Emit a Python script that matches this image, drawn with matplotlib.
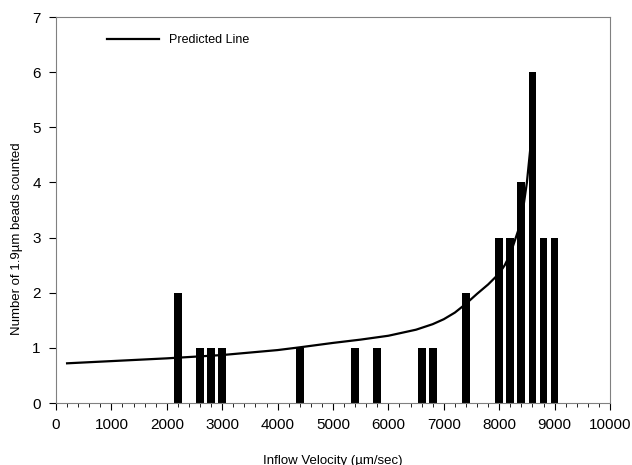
import numpy as np
import matplotlib.pyplot as plt
from matplotlib.ticker import MultipleLocator

plt.rcParams['font.family'] = ['Liberation Sans', 'DejaVu Sans']

# bead counts per inflow velocity bin
velocity = [2200, 2600, 2800, 3000, 4400, 5400, 5800, 6600, 6800, 7400,
            8000, 8200, 8400, 8600, 8800, 9000]
counts = [2, 1, 1, 1, 1, 1, 1, 1, 1, 2, 3, 3, 4, 6, 3, 3]

# predicted line
pred_x = [200, 1000, 2000, 3000, 4000, 4400, 5000, 5500, 6000, 6500, 6800,
          7000, 7200, 7400, 7600, 7800, 8000, 8100, 8200, 8300, 8400, 8500, 8600]
pred_y = [0.72, 0.76, 0.81, 0.87, 0.96, 1.01, 1.09, 1.15, 1.22, 1.33, 1.43,
          1.52, 1.64, 1.80, 1.98, 2.15, 2.35, 2.50, 2.70, 3.00, 3.30, 4.00, 5.00]

fig = plt.figure(figsize=(6.32, 4.65), dpi=100)
ax = fig.add_axes([0.0886, 0.1333, 0.8766, 0.8301])

ax.bar(velocity, counts, width=140, color='black', zorder=2)
ax.plot(pred_x, pred_y, color='black', lw=1.6, label='Predicted Line', zorder=3)

ax.set_xlim(0, 10000)
ax.set_ylim(0, 7)
ax.xaxis.set_major_locator(MultipleLocator(1000))
ax.xaxis.set_minor_locator(MultipleLocator(200))
ax.yaxis.set_major_locator(MultipleLocator(1))

for s in ax.spines.values():
    s.set_color('#808080')
ax.tick_params(axis='both', which='major', direction='out', length=5,
               color='#000000', labelsize=11, pad=6)
ax.tick_params(axis='x', which='minor', direction='out', length=3, color='#000000')

ax.set_xlabel('Inflow Velocity (µm/sec)', fontsize=9.5, labelpad=16)
ax.set_ylabel('Number of 1.9µm beads counted', fontsize=9.5)
ax.yaxis.set_label_coords(-0.06, 0.427)

ax.legend(loc='upper left', bbox_to_anchor=(0.071, 0.985), frameon=False,
          fontsize=9, handlelength=4.2, handletextpad=0.8)

fig.savefig('out.png', dpi=100)
